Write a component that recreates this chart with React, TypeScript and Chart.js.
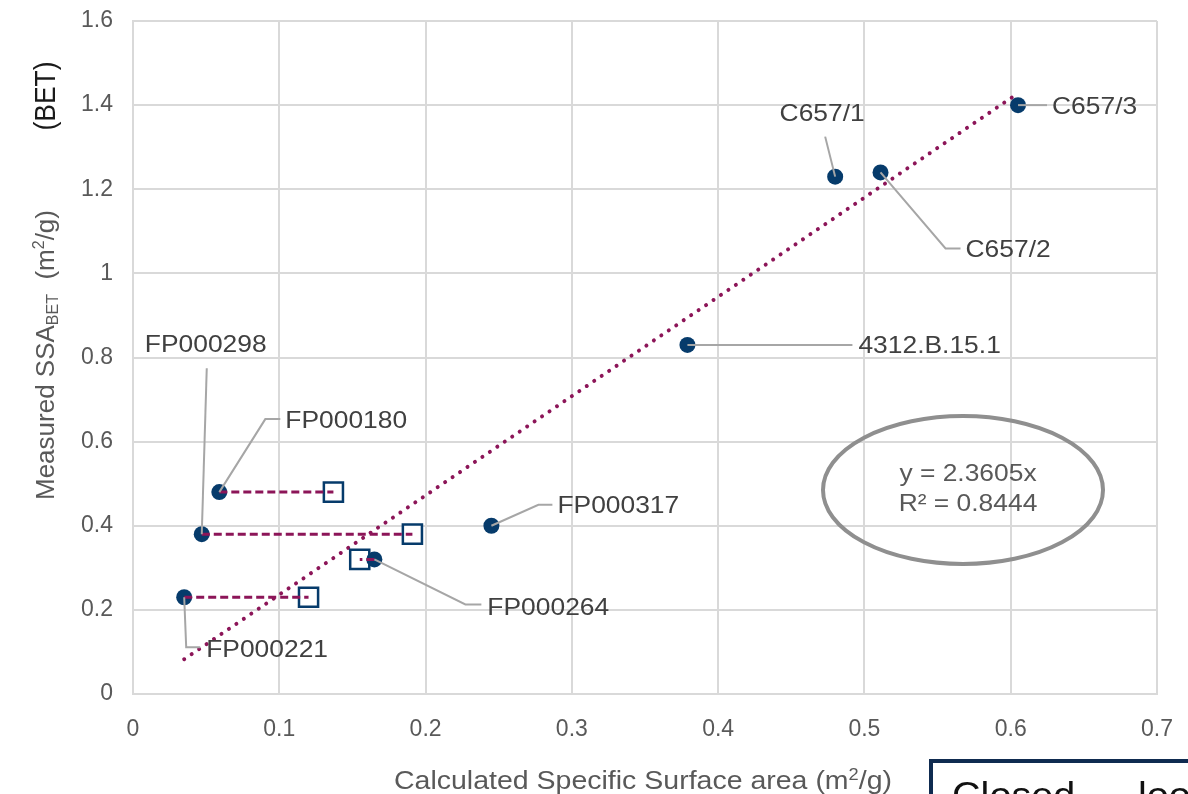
import React, { useEffect, useRef } from "react";
import { Chart, registerables } from "chart.js";

Chart.register(...registerables);

// Samples: calculated specific surface area vs measured BET surface area (m²/g)
const sampleNames = ["FP000221", "FP000298", "FP000180", "FP000264", "FP000317", "4312.B.15.1", "C657/1", "C657/2", "C657/3"];
const calculatedSSA = [0.035, 0.047, 0.059, 0.165, 0.245, 0.379, 0.48, 0.511, 0.605];
const measuredSSA = [0.23, 0.38, 0.48, 0.32, 0.4, 0.83, 1.23, 1.24, 1.4];

// Alternative (recalculated) surface areas for four FP samples
const altSampleNames = ["FP000221", "FP000298", "FP000180", "FP000264"];
const altCalculatedSSA = [0.12, 0.191, 0.137, 0.155];

// Linear fit through origin
const trendSlope = 2.3605;
const trendR2 = 0.8444;

// Axis ticks
const xTickValues = [0, 0.1, 0.2, 0.3, 0.4, 0.5, 0.6, 0.7];
const yTickValues = [0, 0.2, 0.4, 0.6, 0.8, 1, 1.2, 1.4, 1.6];

// Label leader geometry (pixel offsets from each point)
const labelLayout: Record<string, { path: number[][]; text: number[]; align: "left" | "center" }> = {
  "FP000221": { path: [[2, 50], [16, 50]], text: [22, 51], align: "left" },
  "FP000298": { path: [[5, -166]], text: [4, -191], align: "center" },
  "FP000180": { path: [[46, -73], [61, -73]], text: [66, -73], align: "left" },
  "FP000264": { path: [[91, 45], [107, 45]], text: [113, 47], align: "left" },
  "FP000317": { path: [[47, -21], [61, -21]], text: [66, -21], align: "left" },
  "4312.B.15.1": { path: [[165, 0]], text: [171, 0], align: "left" },
  "C657/1": { path: [[-10, -40]], text: [-13, -64], align: "center" },
  "C657/2": { path: [[65, 76], [80, 76]], text: [85, 76], align: "left" },
  "C657/3": { path: [[29, 0]], text: [34, 0], align: "left" },
};

const NAVY = "#063b6b";
const MAROON = "#8c1558";
const FONT = "'Liberation Sans', Arial, sans-serif";
const WIDE = 1.1; // horizontal stretch used for annotation text

type Run = { text: string; size: number; dy?: number };

function drawRuns(
  ctx: CanvasRenderingContext2D,
  runs: Run[],
  cx: number,
  baseline: number,
  color: string,
  sx = 1,
  align: "left" | "center" = "center"
) {
  let total = 0;
  for (const r of runs) {
    ctx.font = `${r.size}px ${FONT}`;
    total += ctx.measureText(r.text).width;
  }
  ctx.save();
  ctx.translate(align === "center" ? cx - (total * sx) / 2 : cx, baseline);
  ctx.scale(sx, 1);
  ctx.fillStyle = color;
  ctx.textAlign = "left";
  ctx.textBaseline = "alphabetic";
  let x = 0;
  for (const r of runs) {
    ctx.font = `${r.size}px ${FONT}`;
    ctx.fillText(r.text, x, r.dy || 0);
    x += ctx.measureText(r.text).width;
  }
  ctx.restore();
}

const annotations = {
  id: "annotations",
  afterDatasetsDraw(chart: any) {
    const ctx: CanvasRenderingContext2D = chart.ctx;
    const xs = chart.scales.x;
    const ys = chart.scales.y;
    ctx.save();

    // leader lines and sample labels
    sampleNames.forEach((name, i) => {
      const lay = labelLayout[name];
      const px = xs.getPixelForValue(calculatedSSA[i]);
      const py = ys.getPixelForValue(measuredSSA[i]);
      ctx.strokeStyle = "#a6a6a6";
      ctx.lineWidth = 2;
      ctx.beginPath();
      ctx.moveTo(px, py);
      lay.path.forEach(([dx, dy]) => ctx.lineTo(px + dx, py + dy));
      ctx.stroke();
      drawRuns(ctx, [{ text: name, size: 24 }], px + lay.text[0], py + lay.text[1] + 8.5, "#404040", WIDE, lay.align);
    });

    // regression equation in an ellipse
    ctx.strokeStyle = "#8f8f8f";
    ctx.lineWidth = 4;
    ctx.beginPath();
    ctx.ellipse(963, 490, 140, 74, 0, 0, Math.PI * 2);
    ctx.stroke();
    drawRuns(ctx, [{ text: `y = ${trendSlope}x`, size: 24 }], 968, 481, "#595959", WIDE);
    drawRuns(ctx, [{ text: `R² = ${trendR2}`, size: 24 }], 968, 511, "#595959", WIDE);

    // axis titles
    drawRuns(
      ctx,
      [
        { text: "Calculated Specific Surface area (m", size: 25 },
        { text: "2", size: 16, dy: -9 },
        { text: "/g)", size: 25 },
      ],
      643,
      789,
      "#595959",
      1.14
    );

    ctx.save();
    ctx.translate(54, 355);
    ctx.rotate(-Math.PI / 2);
    drawRuns(
      ctx,
      [
        { text: "Measured SSA", size: 26 },
        { text: "BET", size: 16, dy: 4 },
        { text: "  (m", size: 26 },
        { text: "2", size: 16, dy: -10 },
        { text: "/g)", size: 26 },
      ],
      0,
      0,
      "#595959"
    );
    ctx.restore();

    ctx.save();
    ctx.translate(55, 96);
    ctx.rotate(-Math.PI / 2);
    drawRuns(ctx, [{ text: "(BET)", size: 30 }], 0, 0, "#1a1a1a", 0.88);
    ctx.restore();

    // framed caption box
    ctx.strokeStyle = "#0f2b50";
    ctx.lineWidth = 4;
    ctx.strokeRect(931, 761, 300, 80);
    drawRuns(ctx, [{ text: "Closed", size: 36 }], 952, 808, "#111111", WIDE, "left");
    drawRuns(ctx, [{ text: "–", size: 36 }], 1100, 808, "#111111", WIDE, "left");
    drawRuns(ctx, [{ text: "loop", size: 36 }], 1138, 808, "#111111", WIDE, "left");

    ctx.restore();
  },
};

export default function App() {
  const canvasRef = useRef<HTMLCanvasElement>(null);

  useEffect(() => {
    document.body.style.margin = "0";
    const canvas = canvasRef.current;
    if (!canvas) return;

    const circlePoints = calculatedSSA.map((x, i) => ({ x, y: measuredSSA[i] }));
    const squarePoints = altSampleNames.map((n, i) => ({ x: altCalculatedSSA[i], y: measuredSSA[sampleNames.indexOf(n)] }));
    const connectors = altSampleNames.map((n, i) => {
      const k = sampleNames.indexOf(n);
      return {
        data: [
          { x: calculatedSSA[k], y: measuredSSA[k] },
          { x: altCalculatedSSA[i], y: measuredSSA[k] },
        ],
        showLine: true,
        borderColor: MAROON,
        borderWidth: 3,
        borderDash: [8, 4],
        pointRadius: 0,
        order: 0,
      };
    });
    const xMin = Math.min(...calculatedSSA);
    const xMax = Math.max(...calculatedSSA);
    const trendPoints = [
      { x: xMin, y: trendSlope * xMin },
      { x: xMax, y: trendSlope * xMax },
    ];

    const fmt = (v: any) => String(Number(Number(v).toFixed(1)));
    const noPad = (s: any) => {
      s.paddingTop = 0;
      s.paddingBottom = 0;
      s.paddingLeft = 0;
      s.paddingRight = 0;
    };

    const chart = new Chart(canvas, {
      type: "scatter",
      data: {
        datasets: [
          ...connectors,
          {
            data: circlePoints,
            pointStyle: "circle",
            pointRadius: 8,
            backgroundColor: NAVY,
            borderColor: NAVY,
            borderWidth: 0,
            order: 1,
          },
          {
            data: squarePoints,
            pointStyle: "rect",
            pointRadius: 13.5,
            backgroundColor: "#ffffff",
            borderColor: NAVY,
            borderWidth: 2.5,
            order: 2,
          },
          {
            data: trendPoints,
            showLine: true,
            borderColor: MAROON,
            borderWidth: 4,
            borderDash: [0.01, 9],
            borderCapStyle: "round",
            pointRadius: 0,
            order: 3,
          },
        ] as any,
      },
      options: {
        responsive: false,
        animation: false,
        devicePixelRatio: 1,
        layout: { padding: { top: 21, right: 31, left: 0, bottom: 0 } },
        plugins: { legend: { display: false }, tooltip: { enabled: false } },
        scales: {
          x: {
            type: "linear",
            min: 0,
            max: 0.7,
            afterFit: (s: any) => {
              s.height = 100;
              noPad(s);
            },
            afterBuildTicks: (s: any) => {
              s.ticks = xTickValues.map((value) => ({ value }));
            },
            ticks: { callback: fmt, color: "#595959", font: { family: FONT, size: 23 }, padding: 22, maxRotation: 0 },
            grid: { color: "#d9d9d9", lineWidth: 2, drawTicks: false },
            border: { color: "#d9d9d9", width: 2 },
          },
          y: {
            type: "linear",
            min: 0,
            max: 1.6,
            afterFit: (s: any) => {
              s.width = 133;
              noPad(s);
            },
            afterBuildTicks: (s: any) => {
              s.ticks = yTickValues.map((value) => ({ value }));
            },
            ticks: { callback: fmt, color: "#595959", font: { family: FONT, size: 23 }, padding: 20 },
            grid: { color: "#d9d9d9", lineWidth: 2, drawTicks: false },
            border: { color: "#d9d9d9", width: 2 },
          },
        },
      },
      plugins: [annotations],
    });

    return () => chart.destroy();
  }, []);

  return (
    <div style={{ position: "absolute", left: 0, top: 0, width: 1188, height: 794, overflow: "hidden", background: "#fff" }}>
      <canvas ref={canvasRef} width={1188} height={794} style={{ display: "block" }} />
    </div>
  );
}
